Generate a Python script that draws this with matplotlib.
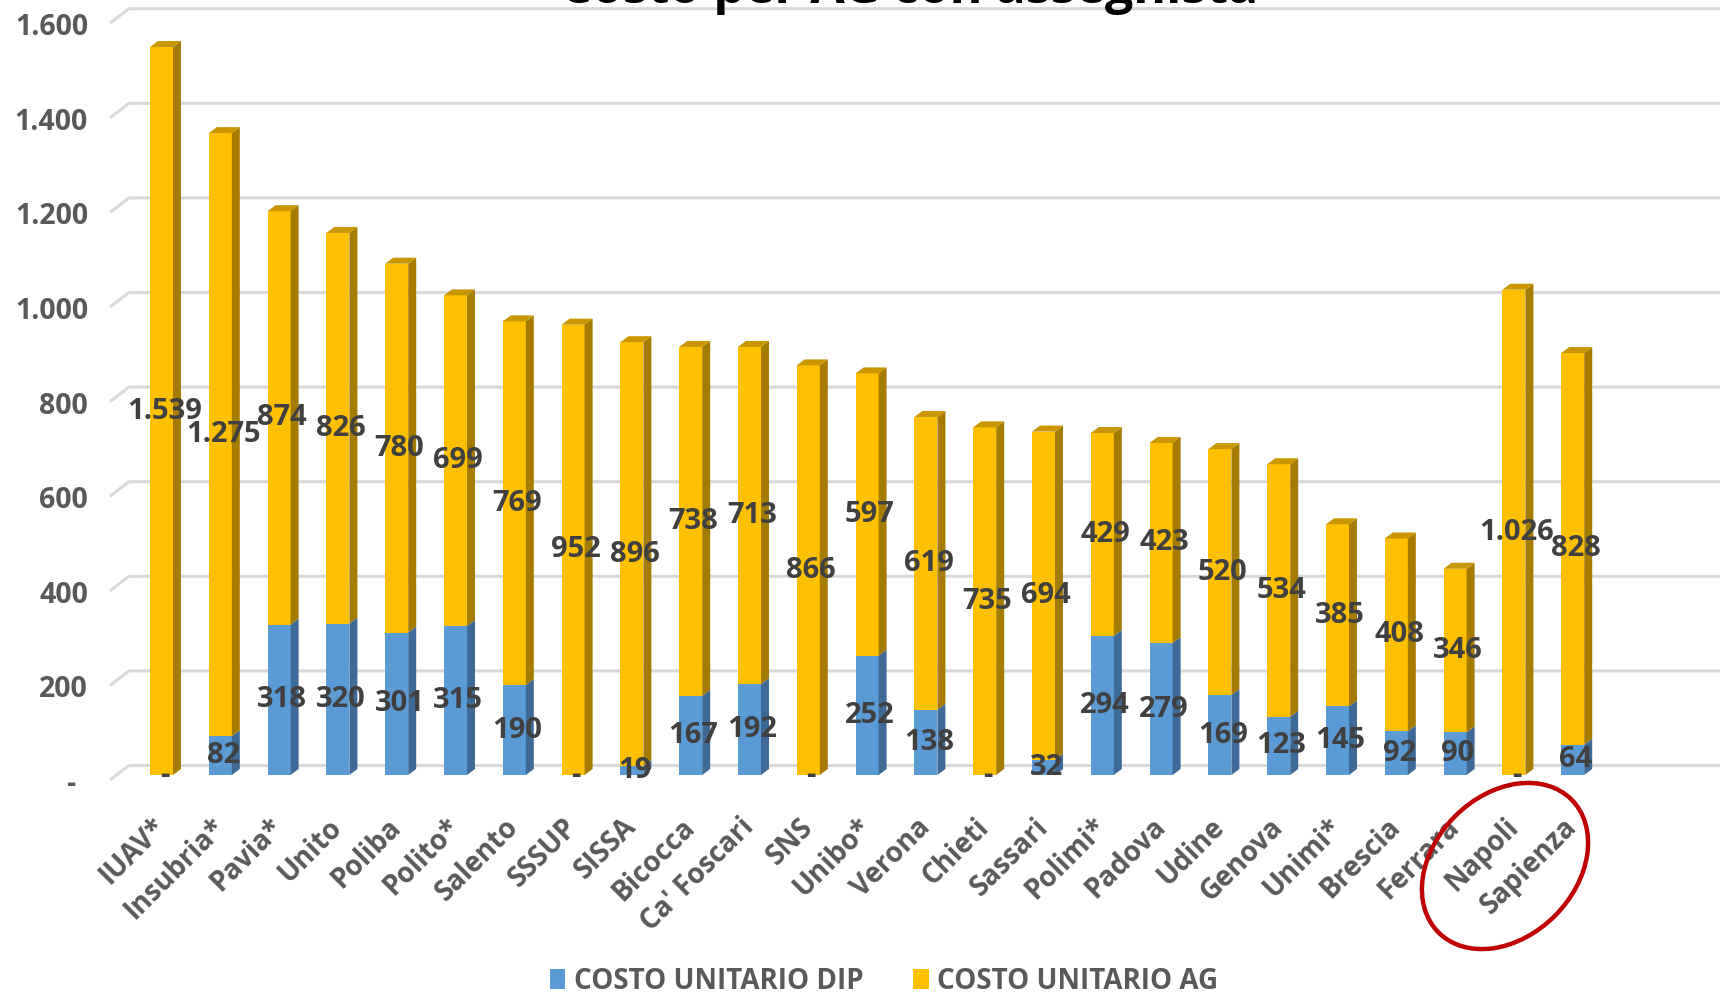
import matplotlib
matplotlib.use("Agg")
import matplotlib.pyplot as plt
from matplotlib.patches import Patch, Ellipse
from matplotlib.transforms import ScaledTranslation
from matplotlib import font_manager as fm

# ---------------- data ----------------
universities = ["IUAV*", "Insubria*", "Pavia*", "Unito", "Poliba", "Polito*", "Salento",
                "SSSUP", "SISSA", "Bicocca", "Ca' Foscari", "SNS", "Unibo*", "Verona",
                "Chieti", "Sassari", "Polimi*", "Padova", "Udine", "Genova", "Unimi*",
                "Brescia", "Ferrara", "Napoli", "Sapienza"]
costo_dip = [0, 82, 318, 320, 301, 315, 190, 0, 19, 167, 192, 0, 252, 138,
             0, 32, 294, 279, 169, 123, 145, 92, 90, 0, 64]
costo_ag = [1539, 1275, 874, 826, 780, 699, 769, 952, 896, 738, 713, 866, 597, 619,
            735, 694, 429, 423, 520, 534, 385, 408, 346, 1026, 828]
y_ticks = [0, 200, 400, 600, 800, 1000, 1200, 1400, 1600]
y_tick_labels = ["-", "200", "400", "600", "800", "1.000", "1.200", "1.400", "1.600"]
series_names = ["COSTO UNITARIO DIP", "COSTO UNITARIO AG"]
title = "Costo per AG con assegnista"

# ---------------- fonts ----------------
available = {f.name for f in fm.fontManager.ttflist}
main_font = [f for f in ["Open Sans", "Lato", "DejaVu Sans"] if f in available]
plt.rcParams['font.family'] = main_font

# ---------------- style ----------------
W, H = 1720, 996
fig = plt.figure(figsize=(W / 100, H / 100), dpi=100)
ax_left, ax_right, ax_top, ax_bot = 100, 1720, 0, 800   # pixels from top-left
ax = fig.add_axes([ax_left / W, (H - ax_bot) / H, (ax_right - ax_left) / W, (ax_bot - ax_top) / H])

x0_px, step_px = 161.5, 58.8
y0_px, scale_px = 775.0, 0.473
ax.set_xlim((ax_left - x0_px) / step_px, (ax_right - x0_px) / step_px)
ax.set_ylim((y0_px - ax_bot) / scale_px, (y0_px - ax_top) / scale_px)

bw = 23 / step_px
ddx = 8 / step_px
ddy = 6 / scale_px

blue_front, blue_side = "#5b9bd5", "#3d6a96"
yel_front, yel_side, yel_top = "#ffc000", "#a67c00", "#c99600"
lab_col = "#404040"
tick_col = "#595959"
grid_col = "#d9d9d9"

# back-wall gridlines with perspective stub
g_dx0 = (110 - x0_px) / step_px
g_dx1 = (129 - x0_px) / step_px
g_lo = 5 / scale_px
g_hi = 9.5 / scale_px
xmax = ax.get_xlim()[1]
for v in y_ticks:
    ax.plot([g_dx0, g_dx1, xmax], [v - g_lo, v + g_hi, v + g_hi], color=grid_col,
            lw=2.2, zorder=0.5, solid_capstyle='butt', clip_on=False)


def draw_segment(i, b, h, front, side, top=None):
    if h <= 0:
        return
    t = b + h
    ax.bar(i, h, bottom=b, width=bw, color=front, zorder=2, linewidth=0)
    xr = i + bw / 2
    ax.fill([xr, xr + ddx, xr + ddx, xr], [b, b + ddy, t + ddy, t], color=side, zorder=2, lw=0)
    if top is not None:
        xl = i - bw / 2
        ax.fill([xl, xl + ddx, xr + ddx, xr], [t, t + ddy, t + ddy, t], color=top, zorder=2, lw=0)


def fmt(v):
    return "-" if v == 0 else f"{v:,}".replace(",", ".")


for i, (d, a) in enumerate(zip(costo_dip, costo_ag)):
    draw_segment(i, 0, d, blue_front, blue_side)
    draw_segment(i, d, a, yel_front, yel_side, yel_top)

for i, (d, a) in enumerate(zip(costo_dip, costo_ag)):
    ax.text(i + ddx / 2 - 0.02, d / 2, fmt(d), ha='center', va='center', fontsize=21,
            fontweight='bold', color=lab_col, zorder=5)
    ax.text(i + ddx / 2 - 0.02, d + a / 2, fmt(a), ha='center', va='center', fontsize=21,
            fontweight='bold', color=lab_col, zorder=5)

# axes cosmetics
for s in ax.spines.values():
    s.set_visible(False)
ax.tick_params(axis='both', length=0)
ax.set_yticks(y_ticks)
ax.set_yticklabels(y_tick_labels, fontsize=20.5, fontweight='bold', color=tick_col)
ax.tick_params(axis='y', pad=(ax_left - 88) * 0.72)
for k, lbl in enumerate(ax.get_yticklabels()):
    shift_x = -13 / 100 if y_tick_labels[k] == "-" else 0
    lbl.set_transform(lbl.get_transform() + ScaledTranslation(shift_x, -6 / 100, fig.dpi_scale_trans))

ax.set_xticks(range(len(universities)))
ax.set_xticklabels(universities, rotation=45, ha='right', va='top', rotation_mode='anchor',
                   fontsize=20, fontweight='bold', color=tick_col)
ax.tick_params(axis='x', pad=9)
for lbl in ax.get_xticklabels():
    lbl.set_transform(lbl.get_transform() + ScaledTranslation(-10 / 100, 0, fig.dpi_scale_trans))

# legend
handles = [Patch(facecolor=blue_front, edgecolor='none'), Patch(facecolor=yel_front, edgecolor='none')]
fig.legend(handles, series_names, loc='center', bbox_to_anchor=(884 / W, 1 - 981 / H),
           ncol=2, frameon=False, labelcolor=tick_col,
           prop={'weight': 'bold', 'size': 20},
           handlelength=0.55, handleheight=0.75, handletextpad=0.3, columnspacing=1.8)

# title (clipped at the top edge as in the reference)
fig.text(909 / W, 1 - 3 / H, title, ha='center', va='baseline', fontsize=36,
         fontweight='bold', color='black')

# red highlight ellipse around Napoli / Sapienza
ell = Ellipse((1505 / 100, (H - 866) / 100), 1.88, 1.41, angle=45, fill=False,
              edgecolor='#c00000', lw=3.2, transform=fig.dpi_scale_trans)
fig.add_artist(ell)

fig.savefig("out.png", dpi=100)
